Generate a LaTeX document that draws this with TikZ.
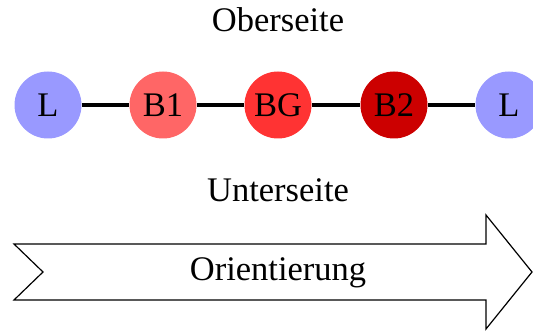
\documentclass[tikz,border=0pt]{standalone}
\usepackage{fontspec}
\setmainfont{Liberation Serif}
\begin{document}
\begin{tikzpicture}[x=1pt,y=-1pt,
  txt/.style={font=\fontsize{34.5}{38}\selectfont, inner sep=0pt},
  ball/.style={circle, minimum size=67pt, inner sep=0pt, txt},
  link/.style={line width=3.5pt, black}]
\useasboundingbox (0,0) rectangle (533,331);
\definecolor{cL}{HTML}{9999FF}
\definecolor{cB1}{HTML}{FF6666}
\definecolor{cBG}{HTML}{FF3333}
\definecolor{cB2}{HTML}{CC0000}
\node[txt] (top) at (278,20) {Oberseite};
\node[ball, fill=cL]  (l1) at (48,105) {L};
\node[ball, fill=cB1] (b1) at (163,105) {B1};
\node[ball, fill=cBG] (bg) at (278,105) {BG};
\node[ball, fill=cB2] (b2) at (394,105) {B2};
\node[ball, fill=cL]  (l2) at (509,105) {L};
\draw[link] (l1) -- (b1);
\draw[link] (b1) -- (bg);
\draw[link] (bg) -- (b2);
\draw[link] (b2) -- (l2);
\node[txt] (bottom) at (278,190) {Unterseite};
% orientation arrow with notched tail
\draw[line width=1.2pt, line join=miter]
  (14,244) -- (486,244) -- (486,215) -- (532,272) -- (486,329) -- (486,300)
  -- (14,300) -- (43,272) -- cycle;
\node[txt] (orient) at (278,273) {Orientierung};
\end{tikzpicture}
\end{document}
